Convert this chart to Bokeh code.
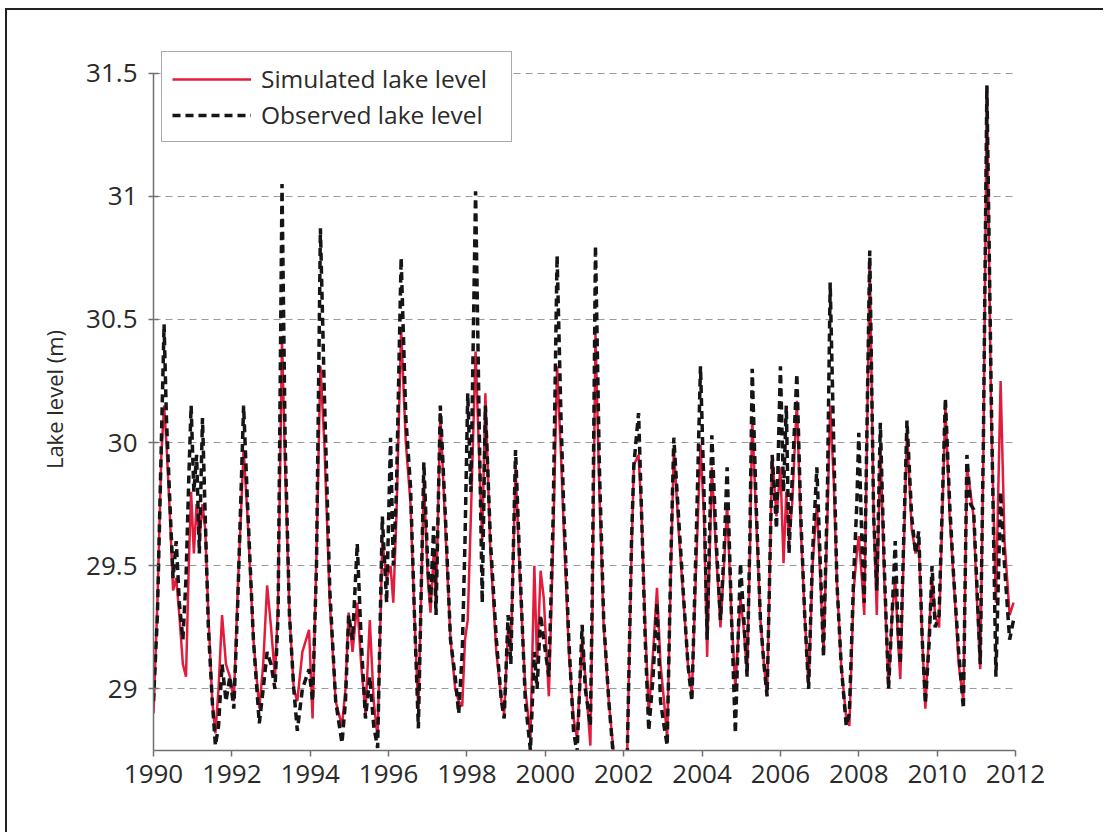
from bokeh.plotting import figure
from bokeh.models import Range1d, FixedTicker, Legend, LegendItem
from bokeh.embed import file_html
from bokeh.resources import INLINE

# ---------------- data ----------------
years = [
    1990.00, 1990.10, 1990.20, 1990.27, 1990.33, 1990.42, 1990.50, 1990.58, 1990.66, 1990.75, 1990.83, 1990.90, 1990.96,
    1991.03, 1991.10, 1991.17, 1991.25, 1991.32, 1991.40, 1991.50, 1991.58, 1991.66, 1991.75, 1991.85, 1991.95,
    1992.05, 1992.15, 1992.30, 1992.40, 1992.55, 1992.70, 1992.80, 1992.90,
    1993.00, 1993.10, 1993.18, 1993.28, 1993.36, 1993.47, 1993.58, 1993.67, 1993.80, 1993.97,
    1994.06, 1994.16, 1994.26, 1994.36, 1994.50, 1994.65, 1994.81, 1994.90, 1994.98,
    1995.08, 1995.20, 1995.30, 1995.41, 1995.52, 1995.62, 1995.72, 1995.84, 1995.95,
    1996.05, 1996.12, 1996.20, 1996.32, 1996.44, 1996.56, 1996.66, 1996.76, 1996.90,
    1997.00, 1997.07, 1997.15, 1997.21, 1997.32, 1997.45, 1997.58, 1997.70, 1997.79, 1997.88, 1997.95,
    1998.02, 1998.10, 1998.22, 1998.32, 1998.39, 1998.47, 1998.60, 1998.75, 1998.88, 1998.95,
    1999.05, 1999.12, 1999.24, 1999.35, 1999.49, 1999.62, 1999.72, 1999.79, 1999.88, 1999.96,
    2000.09, 2000.20, 2000.30, 2000.40, 2000.47, 2000.60, 2000.72, 2000.81, 2000.94,
    2001.02, 2001.15, 2001.20, 2001.28, 2001.38, 2001.49, 2001.62, 2001.75, 2001.95,
    2002.09, 2002.20, 2002.26, 2002.38, 2002.45, 2002.55, 2002.64, 2002.75, 2002.85, 2002.94,
    2003.03, 2003.11, 2003.20, 2003.28, 2003.40, 2003.53, 2003.64, 2003.74, 2003.85, 2003.96,
    2004.05, 2004.13, 2004.25, 2004.36, 2004.47, 2004.56, 2004.64, 2004.75, 2004.85, 2004.92, 2004.98,
    2005.06, 2005.15, 2005.22, 2005.28, 2005.38, 2005.49, 2005.58, 2005.66, 2005.79, 2005.90,
    2006.00, 2006.08, 2006.15, 2006.22, 2006.30, 2006.42, 2006.52, 2006.62, 2006.72, 2006.82, 2006.93,
    2007.02, 2007.10, 2007.20, 2007.27, 2007.36, 2007.44, 2007.55, 2007.68, 2007.76, 2007.87, 2007.95,
    2008.00, 2008.08, 2008.14, 2008.28, 2008.38, 2008.46, 2008.55, 2008.65, 2008.76, 2008.85, 2008.93,
    2009.00, 2009.06, 2009.23, 2009.35, 2009.45, 2009.53, 2009.62, 2009.70, 2009.80, 2009.87, 2009.95,
    2010.05, 2010.21, 2010.32, 2010.42, 2010.55, 2010.67, 2010.76, 2010.85, 2010.93,
    2011.02, 2011.10, 2011.18, 2011.27, 2011.38, 2011.50, 2011.62, 2011.72, 2011.85, 2011.95,
]

observed = [
    28.95, 29.30, 30.00, 30.48, 30.10, 29.75, 29.45, 29.60, 29.35, 29.20, 29.45, 29.85, 30.15,
    29.80, 29.95, 29.55, 30.10, 29.70, 29.25, 28.95, 28.77, 28.85, 29.10, 28.95, 29.05,
    28.92, 29.35, 30.15, 29.75, 29.20, 28.86, 29.00, 29.15,
    29.10, 29.00, 29.30, 31.05, 30.00, 29.30, 29.00, 28.83, 29.00, 29.08,
    28.95, 29.50, 30.87, 30.20, 29.40, 28.95, 28.78, 28.95, 29.30,
    29.20, 29.59, 29.20, 28.88, 29.05, 28.85, 28.76, 29.70, 29.35,
    30.02, 29.50, 29.80, 30.75, 30.10, 29.82, 29.30, 28.84, 29.92,
    29.50, 29.35, 29.66, 29.30, 30.15, 29.70, 29.20, 29.05, 28.90, 29.15, 29.60,
    30.20, 29.80, 31.02, 30.00, 29.35, 30.15, 29.60, 29.20, 28.95, 28.88,
    29.30, 29.10, 29.97, 29.50, 28.95, 28.75, 29.15, 29.00, 29.30, 29.20,
    29.05, 29.70, 30.76, 30.10, 29.73, 29.20, 28.83, 28.74, 29.26,
    29.00, 28.85, 29.40, 30.80, 29.90, 29.28, 28.95, 28.70, 28.70,
    28.72, 29.60, 29.91, 30.12, 29.75, 29.20, 28.83, 29.05, 29.35, 28.95,
    28.85, 28.77, 29.50, 30.02, 29.70, 29.37, 29.10, 28.95, 29.60, 30.31,
    29.80, 29.20, 30.03, 29.60, 29.28, 29.55, 29.90, 29.30, 28.82, 29.20, 29.51,
    29.30, 29.05, 29.60, 30.30, 29.75, 29.28, 29.10, 28.97, 29.95, 29.65,
    30.31, 29.80, 30.15, 29.55, 29.85, 30.28, 29.70, 29.30, 29.00, 29.55, 29.90,
    29.50, 29.13, 29.80, 30.65, 30.00, 29.44, 29.10, 28.85, 28.90, 29.46, 29.75,
    30.04, 29.60, 29.35, 30.78, 29.70, 29.40, 30.08, 29.50, 29.00, 29.30, 29.60,
    29.25, 29.10, 30.09, 29.70, 29.55, 29.64, 29.20, 28.94, 29.20, 29.50, 29.25,
    29.30, 30.18, 29.75, 29.46, 29.15, 28.92, 29.95, 29.75, 29.73,
    29.40, 29.10, 30.00, 31.45, 30.20, 29.05, 29.80, 29.50, 29.20, 29.28,
]

simulated = [
    28.90, 29.35, 29.95, 30.15, 30.00, 29.70, 29.40, 29.45, 29.30, 29.10, 29.05, 29.50, 29.80,
    29.55, 29.75, 29.60, 29.75, 29.65, 29.30, 28.95, 28.82, 29.00, 29.30, 29.10, 29.05,
    28.95, 29.40, 29.97, 29.70, 29.20, 28.92, 29.10, 29.42,
    29.25, 29.05, 29.35, 30.42, 29.90, 29.30, 29.00, 28.95, 29.15, 29.24,
    28.88, 29.55, 30.31, 30.00, 29.35, 28.95, 28.85, 29.00, 29.31,
    29.15, 29.35, 29.10, 28.90, 29.28, 28.95, 28.80, 29.60, 29.45,
    29.50, 29.35, 29.70, 30.46, 30.00, 29.75, 29.30, 28.90, 29.85,
    29.45, 29.31, 29.55, 29.35, 30.12, 29.65, 29.20, 29.00, 28.95, 28.93, 29.20,
    29.28, 29.70, 30.37, 29.90, 29.60, 30.20, 29.55, 29.15, 28.95, 28.90,
    29.25, 29.15, 29.90, 29.45, 29.00, 28.80, 29.50, 29.10, 29.48, 29.37,
    28.97, 29.60, 30.31, 29.95, 29.65, 29.15, 28.88, 28.80, 29.20,
    29.05, 28.77, 29.30, 30.44, 29.80, 29.25, 28.95, 28.73, 28.72,
    28.74, 29.55, 29.91, 29.95, 29.73, 29.25, 28.90, 29.15, 29.41, 29.10,
    28.95, 28.80, 29.45, 29.98, 29.65, 29.35, 29.10, 28.98, 29.50, 29.99,
    29.70, 29.13, 29.90, 29.55, 29.25, 29.50, 29.75, 29.30, 29.00, 29.20, 29.37,
    29.25, 29.06, 29.55, 30.10, 29.70, 29.28, 29.10, 28.97, 29.95, 29.70,
    29.90, 29.51, 29.80, 29.60, 29.75, 30.17, 29.65, 29.30, 29.00, 29.50, 29.75,
    29.45, 29.15, 29.70, 30.15, 29.85, 29.44, 29.10, 28.88, 28.85, 29.40, 29.55,
    29.62, 29.45, 29.30, 30.75, 29.70, 29.30, 30.00, 29.45, 29.00, 29.30, 29.45,
    29.20, 29.04, 30.05, 29.65, 29.55, 29.60, 29.20, 28.92, 29.25, 29.45, 29.30,
    29.25, 30.15, 29.70, 29.45, 29.10, 28.95, 29.90, 29.80, 29.70,
    29.35, 29.08, 29.95, 31.45, 30.10, 29.35, 30.25, 29.60, 29.30, 29.35,
]

x_ticks = [1990, 1992, 1994, 1996, 1998, 2000, 2002, 2004, 2006, 2008, 2010, 2012]
x_tick_labels = ["1990", "1992", "1994", "1996", "1998", "2000", "2002", "2004", "2006", "2008", "2010", "2012"]
y_ticks = [29, 29.5, 30, 30.5, 31, 31.5]
y_tick_labels = ["29", "29.5", "30", "30.5", "31", "31.5"]
series_names = ["Simulated lake level", "Observed lake level"]
y_title = "Lake level (m)"

# ---------------- styling ----------------
FONT = "Open Sans"
RED = "#e31b3d"
BLACK = "#151515"
AXIS = "#707070"
TEXT = "#2a2a2a"

FRAME_H = 702
p = figure(
    frame_width=862, frame_height=FRAME_H,
    min_border_left=146, min_border_right=88, min_border_top=38, min_border_bottom=82,
    x_range=Range1d(1990, 2012), y_range=Range1d(28.75, 31.6),
    output_backend="svg", toolbar_location=None,
)
p.styles = {"border-top": "2px solid #222", "border-left": "2px solid #222",
            "margin-left": "5px", "margin-top": "8px"}
p.outline_line_color = None
p.background_fill_color = "white"
p.border_fill_color = "white"

sim_r = p.line(years, simulated, line_color=RED, line_width=2.5)
obs_r = p.line(years, observed, line_color=BLACK, line_width=3.5, line_dash="8 5")

# grid
p.xgrid.grid_line_color = None
p.ygrid.ticker = FixedTicker(ticks=y_ticks)
p.ygrid.grid_line_color = "#9a9a9a"
p.ygrid.grid_line_dash = "7 5"
p.ygrid.grid_line_width = 1

# axes
p.xaxis.ticker = FixedTicker(ticks=x_ticks)
p.xaxis.major_label_overrides = {t: l for t, l in zip(x_ticks, x_tick_labels)}
p.yaxis.ticker = FixedTicker(ticks=y_ticks)
p.yaxis.major_label_overrides = {t: l for t, l in zip(y_ticks, y_tick_labels)}
p.yaxis.bounds = (28.75, y_ticks[-1])
for ax in (p.xaxis, p.yaxis):
    ax.axis_line_color = AXIS
    ax.axis_line_width = 1.5
    ax.major_tick_line_color = AXIS
    ax.major_tick_line_width = 1.5
    ax.minor_tick_line_color = None
    ax.major_label_text_font = FONT
    ax.major_label_text_font_size = "26px"
    ax.major_label_text_color = TEXT
p.xaxis.major_tick_out = 6
p.xaxis.major_tick_in = 0
p.xaxis.major_label_standoff = 8
p.yaxis.major_tick_out = 5
p.yaxis.major_tick_in = 5
p.yaxis.major_label_standoff = 11
p.yaxis.axis_label = y_title
p.yaxis.axis_label_text_font = FONT
p.yaxis.axis_label_text_font_size = "22px"
p.yaxis.axis_label_text_font_style = "normal"
p.yaxis.axis_label_text_color = TEXT
p.yaxis.axis_label_standoff = 14

legend = Legend(
    items=[LegendItem(label=series_names[0], renderers=[sim_r]),
           LegendItem(label=series_names[1], renderers=[obs_r])],
    location=(8, FRAME_H - 94),
    orientation="vertical",
    border_line_color="#555555", border_line_width=1.5,
    background_fill_color="white", background_fill_alpha=1,
    label_text_font=FONT, label_text_font_size="24.5px", label_text_color=TEXT,
    glyph_width=79, glyph_height=30, label_height=30, label_standoff=10,
    label_width=240, spacing=3, padding=10, margin=0,
)
p.add_layout(legend, "center")

open("out.html", "w").write(file_html(p, INLINE))
